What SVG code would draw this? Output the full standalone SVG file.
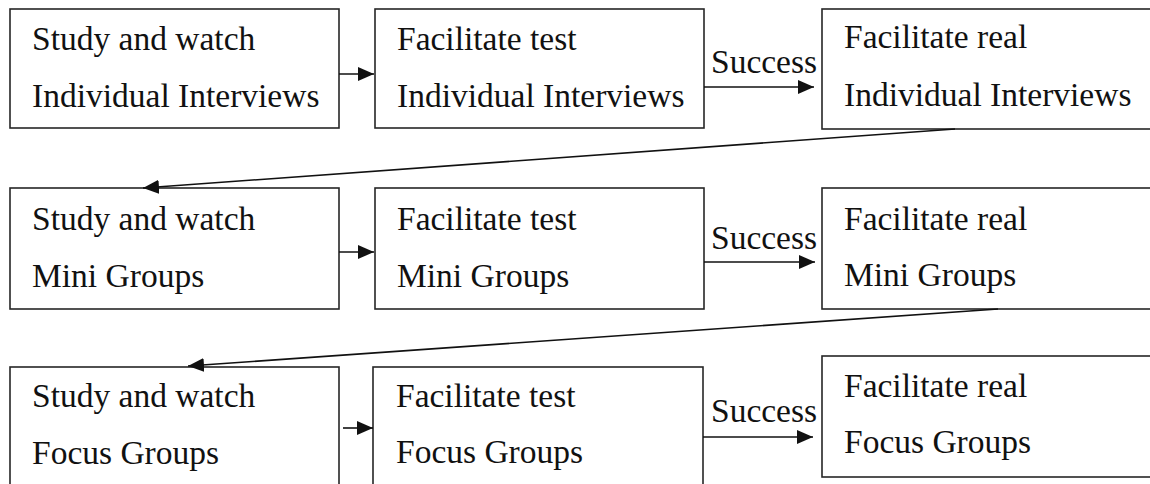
<svg xmlns="http://www.w3.org/2000/svg" width="1150" height="484" viewBox="0 0 1150 484" font-family="Liberation Serif, DejaVu Serif, serif">
<style>
.box{fill:#fff;stroke:#262626;stroke-width:1.6}
.t{font-size:33.5px;fill:#111}
.c{stroke:#111;stroke-width:1.6;fill:none}
</style>
<defs>
<marker id="ah" markerUnits="userSpaceOnUse" markerWidth="18" markerHeight="16" refX="16" refY="8" orient="auto" viewBox="0 0 18 16">
<path d="M0,1 L16,8 L0,15 z" fill="#111"/>
</marker>
</defs>
<rect width="1150" height="484" fill="#fff"/>
<g id="n1"><rect class="box" x="10" y="9" width="329" height="119"/><text class="t" x="32" y="50">Study and watch</text><text class="t" x="32" y="107">Individual Interviews</text></g>
<g id="n2"><rect class="box" x="375" y="9" width="329" height="119"/><text class="t" x="397" y="50">Facilitate test</text><text class="t" x="397" y="107">Individual Interviews</text></g>
<g id="n3"><rect class="box" x="822" y="9" width="340" height="120"/><text class="t" x="844" y="48">Facilitate real</text><text class="t" x="844" y="106">Individual Interviews</text></g>
<g id="n4"><rect class="box" x="10" y="188" width="329" height="121"/><text class="t" x="32" y="230">Study and watch</text><text class="t" x="32" y="287">Mini Groups</text></g>
<g id="n5"><rect class="box" x="375" y="188" width="329" height="121"/><text class="t" x="397" y="230">Facilitate test</text><text class="t" x="397" y="287">Mini Groups</text></g>
<g id="n6"><rect class="box" x="822" y="188" width="340" height="121"/><text class="t" x="844" y="230">Facilitate real</text><text class="t" x="844" y="286">Mini Groups</text></g>
<g id="n7"><rect class="box" x="10" y="367" width="329" height="130"/><text class="t" x="32" y="407">Study and watch</text><text class="t" x="32" y="464">Focus Groups</text></g>
<g id="n8"><rect class="box" x="373" y="367" width="330" height="130"/><text class="t" x="396" y="407">Facilitate test</text><text class="t" x="396" y="463">Focus Groups</text></g>
<g id="n9"><rect class="box" x="822" y="356" width="340" height="121"/><text class="t" x="844" y="397">Facilitate real</text><text class="t" x="844" y="453">Focus Groups</text></g>
<g id="connectors">
<line class="c" x1="339" y1="74" x2="374" y2="74" marker-end="url(#ah)"/>
<line class="c" x1="704" y1="87" x2="814" y2="87" marker-end="url(#ah)"/>
<text class="t" x="711" y="73">Success</text>
<line class="c" x1="955" y1="129" x2="143" y2="188" marker-end="url(#ah)"/>
<line class="c" x1="339" y1="252" x2="374" y2="252" marker-end="url(#ah)"/>
<line class="c" x1="704" y1="262" x2="815" y2="262" marker-end="url(#ah)"/>
<text class="t" x="711" y="249">Success</text>
<line class="c" x1="998" y1="309" x2="188" y2="366" marker-end="url(#ah)"/>
<line class="c" x1="343" y1="428" x2="373" y2="428" marker-end="url(#ah)"/>
<line class="c" x1="703" y1="437" x2="813" y2="437" marker-end="url(#ah)"/>
<text class="t" x="711" y="422">Success</text>
</g>
</svg>
